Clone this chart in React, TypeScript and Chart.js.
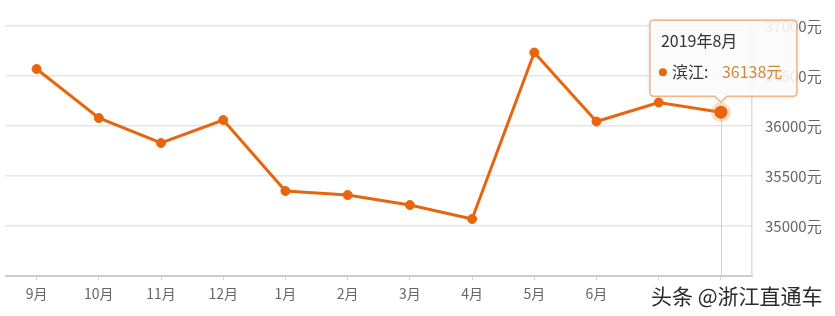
import React, { useEffect, useRef } from "react";
import { Chart, registerables } from "chart.js";

Chart.register(...registerables);

const categories = ["9月", "10月", "11月", "12月", "1月", "2月", "3月", "4月", "5月", "6月", "7月", "8月"];
const showLabel = [true, true, true, true, true, true, true, true, true, true, false, false];
const prices = [36570, 36080, 35830, 36060, 35350, 35310, 35210, 35070, 36735, 36045, 36235, 36138];
const seriesName = "滨江";
const tooltipTitle = "2019年8月";
const activeIndex = 11;
const yMin = 34500;
const yMax = 37000;
const yStep = 500;
const unit = "元";
const watermark = "头条 @浙江直通车";

const LINE = "#e8650e";
const FONT = '"Noto Sans CJK SC", "Noto Sans", sans-serif';

const overlayPlugin = {
  id: "overlay",
  beforeDatasetsDraw(chart: any) {
    const ctx = chart.ctx;
    const meta = chart.getDatasetMeta(0);
    const pt = meta.data[activeIndex];
    if (!pt) return;
    const area = chart.chartArea;
    ctx.save();
    ctx.strokeStyle = "#cfcfcf";
    ctx.lineWidth = 1;
    ctx.beginPath();
    ctx.moveTo(Math.round(pt.x) + 0.5, pt.y);
    ctx.lineTo(Math.round(pt.x) + 0.5, area.bottom);
    ctx.stroke();
    ctx.restore();
  },
  afterDatasetsDraw(chart: any) {
    const ctx = chart.ctx;
    const meta = chart.getDatasetMeta(0);
    const pt = meta.data[activeIndex];
    if (!pt) return;
    ctx.save();
    ctx.fillStyle = "rgba(240,140,60,0.28)";
    ctx.beginPath();
    ctx.arc(pt.x, pt.y, 10, 0, Math.PI * 2);
    ctx.fill();
    ctx.fillStyle = LINE;
    ctx.beginPath();
    ctx.arc(pt.x, pt.y, 6.5, 0, Math.PI * 2);
    ctx.fill();
    ctx.restore();
  },
  afterDraw(chart: any) {
    const ctx = chart.ctx;
    const meta = chart.getDatasetMeta(0);
    const pt = meta.data[activeIndex];
    if (!pt) return;
    const w = 147;
    const h = 76;
    const cx = pt.x;
    const bottom = pt.y - 16;
    const top = bottom - h;
    const left = cx - 71;
    const right = left + w;
    const r = 4;
    const caret = 6;
    ctx.save();
    ctx.shadowColor = "rgba(0,0,0,0.15)";
    ctx.shadowBlur = 4;
    ctx.beginPath();
    ctx.moveTo(left + r, top);
    ctx.lineTo(right - r, top);
    ctx.quadraticCurveTo(right, top, right, top + r);
    ctx.lineTo(right, bottom - r);
    ctx.quadraticCurveTo(right, bottom, right - r, bottom);
    ctx.lineTo(cx + caret, bottom);
    ctx.lineTo(cx, bottom + caret);
    ctx.lineTo(cx - caret, bottom);
    ctx.lineTo(left + r, bottom);
    ctx.quadraticCurveTo(left, bottom, left, bottom - r);
    ctx.lineTo(left, top + r);
    ctx.quadraticCurveTo(left, top, left + r, top);
    ctx.closePath();
    ctx.fillStyle = "rgba(255,255,255,0.88)";
    ctx.fill();
    ctx.shadowColor = "transparent";
    ctx.strokeStyle = "#eeb68a";
    ctx.lineWidth = 1.5;
    ctx.stroke();

    ctx.font = `16px ${FONT}`;
    ctx.textBaseline = "middle";
    ctx.textAlign = "left";
    ctx.fillStyle = "#333";
    ctx.fillText(tooltipTitle, left + 11, top + 21);
    ctx.fillStyle = LINE;
    ctx.beginPath();
    ctx.arc(left + 13, top + 52, 4, 0, Math.PI * 2);
    ctx.fill();
    ctx.fillStyle = "#333";
    ctx.fillText(seriesName + ":", left + 22, top + 52);
    ctx.fillStyle = "#d4883c";
    ctx.fillText(String(prices[activeIndex]) + unit, left + 72, top + 52);
    ctx.restore();
  },
};

export default function App() {
  const ref = useRef<HTMLCanvasElement>(null);
  useEffect(() => {
    if (!ref.current) return;
    const chart = new Chart(ref.current, {
      type: "line",
      data: {
        labels: categories,
        datasets: [
          {
            label: seriesName,
            data: prices,
            borderColor: LINE,
            backgroundColor: LINE,
            borderWidth: 3,
            pointRadius: 4.5,
            pointBackgroundColor: LINE,
            pointBorderColor: LINE,
            pointBorderWidth: 1,
            tension: 0,
          },
        ],
      },
      options: {
        animation: false,
        responsive: false,
        maintainAspectRatio: false,
        events: [],
        layout: { padding: { left: 5, top: 26, right: 0, bottom: 0 } },
        plugins: { legend: { display: false }, tooltip: { enabled: false } },
        scales: {
          x: {
            offset: true,
            grid: {
              display: true,
              drawOnChartArea: false,
              drawTicks: true,
              tickLength: 4,
              offset: false,
              color: "#d6d6d6",
            },
            border: { display: true, color: "#cccccc", width: 2 },
            ticks: {
              padding: 5,
              color: "#666",
              font: { family: FONT, size: 14 },
              maxRotation: 0,
              autoSkip: false,
              callback: (v: any, i: number) => (showLabel[i] ? categories[i] : ""),
            },
            afterFit: (s: any) => {
              s.height = 40;
            },
          },
          y: {
            position: "right",
            min: yMin,
            max: yMax,
            grid: { color: "#e6e6e6", drawTicks: false, lineWidth: 1.5 },
            border: { display: true, color: "#dddddd", width: 1.5 },
            ticks: {
              stepSize: yStep,
              padding: 13,
              color: "#666",
              font: { family: FONT, size: 15 },
              callback: (v: any) => (v === yMin ? "" : v + unit),
            },
            afterFit: (s: any) => {
              s.width = 83;
            },
          },
        },
      },
      plugins: [overlayPlugin],
    });
    return () => chart.destroy();
  }, []);
  return (
    <div style={{ position: "absolute", left: 0, top: 0, width: 835, height: 316, background: "#fff" }}>
      <canvas ref={ref} width={835} height={316} style={{ display: "block" }} />
      <div
        style={{
          position: "absolute",
          left: 651,
          top: 280,
          fontFamily: FONT,
          fontSize: 21,
          fontWeight: 400,
          color: "#2a2a2a",
          whiteSpace: "nowrap",
          lineHeight: "30px",
          textShadow: "0 0 2px #fff, 0 0 2px #fff",
        }}
      >
        {watermark}
      </div>
    </div>
  );
}
